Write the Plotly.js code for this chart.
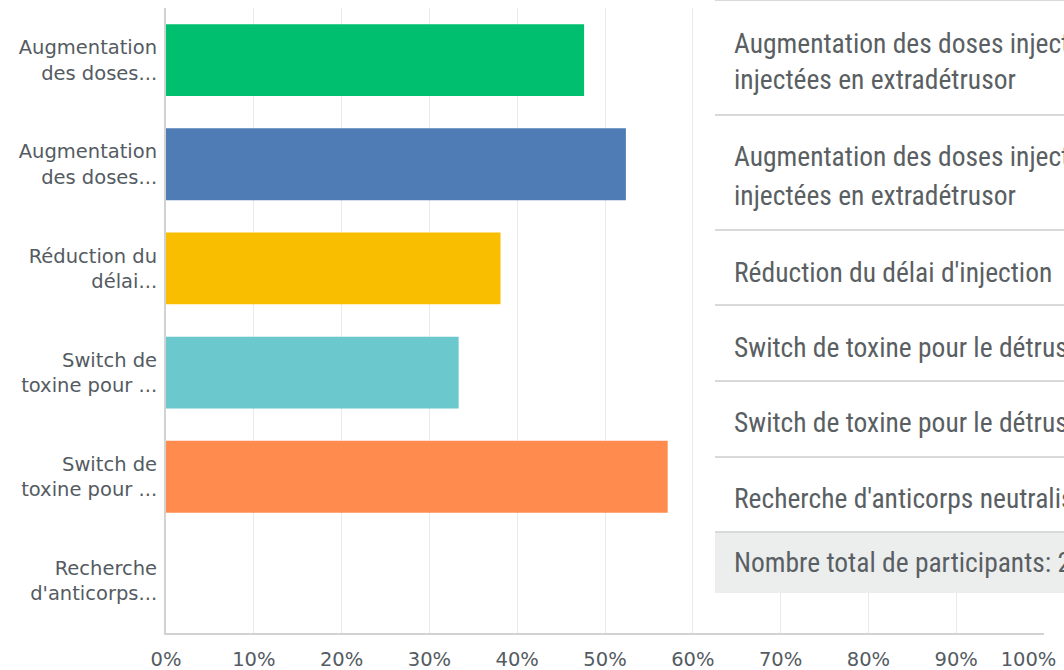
<!DOCTYPE html>
<html>
<head>
<meta charset="utf-8">
<script src="https://cdn.plot.ly/plotly-3.0.1.min.js"></script>
<style>
html,body{margin:0;padding:0;background:#fff;}
#chart{width:1064px;height:670px;}
</style>
</head>
<body>
<div id="chart"></div>
<script>
// ---- data ----
const tickLabels = [
  "Augmentation<br>des doses...",
  "Augmentation<br>des doses...",
  "Réduction du<br>délai...",
  "Switch de<br>toxine pour ...",
  "Switch de<br>toxine pour ...",
  "Recherche<br>d'anticorps..."
];
const values = [47.62, 52.38, 38.10, 33.33, 57.14, 0];
const barColors = ["#00BF6F", "#507CB6", "#F9BE00", "#6BC8CD", "#FF8B4F", "#D25F90"];
const xTickVals = [0,10,20,30,40,50,60,70,80,90,100];
const xTickText = ["0%","10%","20%","30%","40%","50%","60%","70%","80%","90%","100%\u00a0\u00a0\u00a0\u00a0\u00a0"];
const tableLines = [
  ["Augmentation des doses injectées", "injectées en extradétrusor"],
  ["Augmentation des doses injectées", "injectées en extradétrusor"],
  ["Réduction du délai d'injection"],
  ["Switch de toxine pour le détrusor"],
  ["Switch de toxine pour le détrusor"],
  ["Recherche d'anticorps neutralisants"]
];
const totalLabel = "Nombre total de participants: 21";

// ---- layout geometry (pixels) ----
const W = 1064, H = 670;
const M = {l:166, r:20, t:8, b:37};
const PW = W - M.l - M.r, PH = H - M.t - M.b;
const px = x => (x - M.l) / PW;
const py = y => (H - M.b - y) / PH;

const yIdx = values.map((v,i)=>i);

const trace = {
  type: "bar",
  orientation: "h",
  x: values,
  y: yIdx,
  marker: {color: barColors, line: {width: 0}},
  hoverinfo: "none"
};

// table overlay
const rowBounds = [0, 115, 230, 305, 381, 457, 532];
const lineCenters = [[43, 80], [157, 195], [272], [347], [423], [498]];
const tblX0 = 715, tblX1 = 1080;
const shapes = [];
shapes.push({type:"rect", xref:"paper", yref:"paper", x0:px(tblX0), x1:px(tblX1), y0:py(593), y1:py(-5),
  fillcolor:"#ffffff", line:{width:0}, layer:"above"});
for (let i = 0; i < rowBounds.length; i++) {
  shapes.push({type:"line", xref:"paper", yref:"paper", x0:px(tblX0), x1:px(tblX1), y0:py(rowBounds[i]), y1:py(rowBounds[i]),
    line:{color:"#d9d9d9", width:2}, layer:"above"});
}
shapes.push({type:"rect", xref:"paper", yref:"paper", x0:px(tblX0), x1:px(tblX1), y0:py(593), y1:py(533),
  fillcolor:"#eceeee", line:{width:0}, layer:"above"});

const tblFont = {family:"'Liberation Sans Narrow', 'Roboto Condensed', 'Arial Narrow', 'Liberation Sans', sans-serif", size:27.5, color:"#5a5f63"};
const annotations = [];
tableLines.forEach((lines, r) => {
  lines.forEach((t, k) => {
    annotations.push({xref:"paper", yref:"paper", x:px(732), y:py(lineCenters[r][k]), xanchor:"left", yanchor:"middle",
      text:t, showarrow:false, font:tblFont, align:"left"});
  });
});
annotations.push({xref:"paper", yref:"paper", x:px(732), y:py(562), xanchor:"left", yanchor:"middle",
  text:totalLabel, showarrow:false, font:tblFont, align:"left"});

const labelFont = {family:"'DejaVu Sans', sans-serif", size:19.5, color:"#545b62"};

const layout = {
  width: W, height: H,
  margin: M,
  paper_bgcolor: "#ffffff",
  plot_bgcolor: "#ffffff",
  showlegend: false,
  bargap: 0.31,
  xaxis: {
    range: [0, 100],
    tickvals: xTickVals,
    ticktext: xTickText,
    showgrid: true,
    gridcolor: "#e9e9e9",
    gridwidth: 1,
    zeroline: false,
    showline: true,
    linecolor: "#d2d2d2",
    linewidth: 2,
    ticks: "",
    ticklabelstandoff: 8,
    ticklabeloverflow: "allow",
    tickfont: labelFont,
    fixedrange: true
  },
  yaxis: {
    range: [5.5, -0.5],
    tickvals: yIdx,
    ticktext: tickLabels,
    showgrid: false,
    zeroline: false,
    showline: true,
    linecolor: "#d2d2d2",
    linewidth: 2,
    ticks: "",
    ticklabelstandoff: 3,
    tickfont: labelFont,
    fixedrange: true
  },
  shapes: shapes,
  annotations: annotations
};

Plotly.newPlot("chart", [trace], layout, {displayModeBar:false, staticPlot:true});
</script>
</body>
</html>
